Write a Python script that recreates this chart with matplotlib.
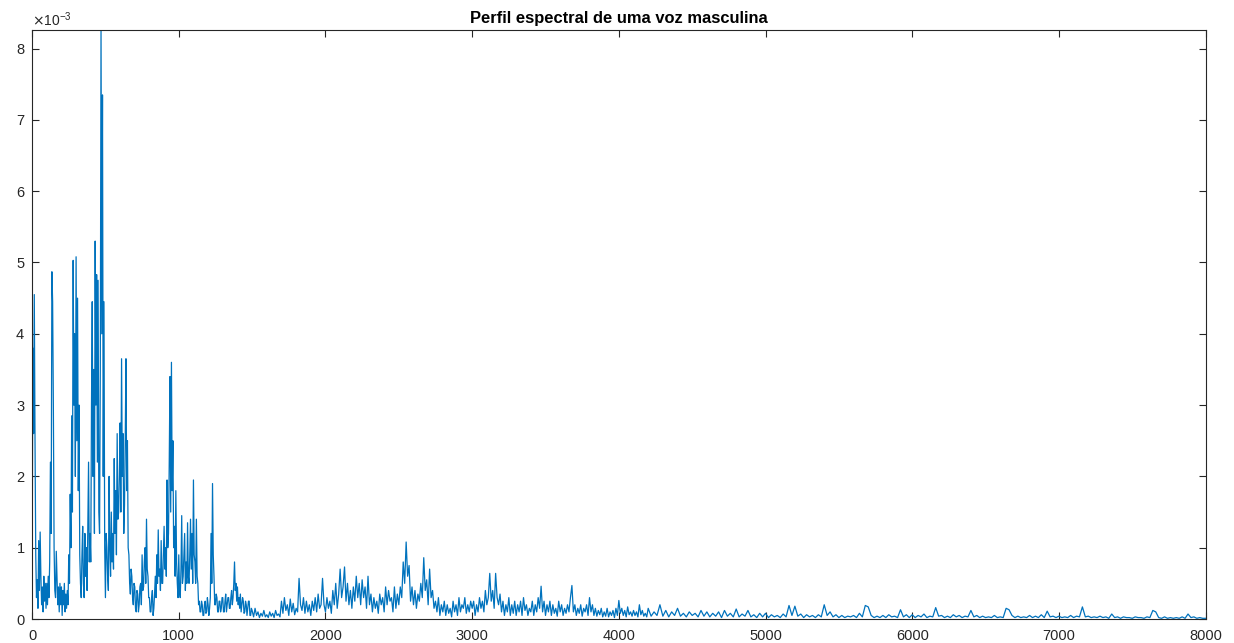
import numpy as np
import matplotlib.pyplot as plt
from matplotlib.ticker import ScalarFormatter

# amplitudes, in units of 1e-3
# band A: 0..1495 Hz, step 5 Hz (one row = 100 Hz)
amp_a = [0.3, 3.8, 2.6, 4.55, 2.5, 0.9, 0.3, 0.55, 0.15, 1.1, 0.4, 1.22, 0.6, 0.2, 0.45, 0.1, 0.6, 0.25, 0.5, 0.15,
         0.5, 0.2, 0.6, 0.3, 0.8, 2.2, 1.2, 4.87, 4.45, 3.0, 1.0, 0.4, 0.3, 0.95, 0.6, 0.2, 0.45, 0.1, 0.5, 0.2,
         0.45, 0.05, 0.4, 0.2, 0.5, 0.1, 0.35, 0.15, 0.4, 0.2, 0.9, 0.5, 1.75, 1.0, 2.85, 1.5, 5.03, 3.0, 4.0, 2.0,
         5.08, 2.5, 4.5, 1.8, 3.0, 0.9, 0.5, 0.3, 0.9, 1.3, 0.5, 0.3, 1.2, 0.6, 1.0, 0.4, 1.3, 2.2, 0.8, 1.2,
         0.8, 3.0, 4.45, 2.0, 3.5, 1.2, 5.3, 3.0, 4.83, 2.2, 4.75, 1.5, 1.2, 3.5, 8.26, 4.0, 7.35, 2.0, 4.45, 1.0,
         0.3, 1.2, 1.0, 0.6, 0.4, 2.0, 1.0, 0.6, 1.5, 0.8, 1.2, 0.7, 2.25, 1.2, 1.8, 0.9, 2.6, 1.4, 1.5, 2.0,
         2.75, 1.5, 3.65, 2.0, 2.6, 1.2, 1.6, 2.5, 3.65, 1.8, 2.5, 1.0, 0.9, 0.5, 0.35, 0.7, 0.6, 0.3, 0.2, 0.5,
         0.45, 0.15, 0.1, 0.4, 0.35, 0.1, 0.2, 0.45, 0.5, 0.2, 0.9, 0.4, 0.45, 0.8, 1.0, 0.5, 1.4, 0.7, 0.6, 0.3,
         0.3, 0.1, 0.1, 0.3, 0.4, 0.05, 0.15, 0.35, 0.6, 0.3, 0.9, 0.5, 1.25, 0.6, 0.7, 0.4, 1.1, 0.5, 0.5, 0.9,
         1.3, 0.7, 1.0, 0.6, 1.95, 1.0, 1.2, 2.2, 3.4, 1.5, 3.6, 1.8, 2.5, 1.0, 1.3, 0.6, 1.8, 0.8, 0.5, 0.3,
         0.9, 0.4, 0.3, 0.7, 1.45, 0.5, 0.6, 0.9, 1.2, 0.4, 0.8, 0.5, 1.35, 0.6, 0.5, 0.9, 1.4, 0.7, 1.2, 0.5,
         1.95, 0.9, 0.8, 0.5, 1.4, 0.6, 0.5, 0.2, 0.25, 0.1, 0.1, 0.25, 0.2, 0.05, 0.05, 0.2, 0.25, 0.08, 0.1, 0.3,
         0.2, 0.05, 0.15, 0.3, 1.2, 0.5, 1.9, 0.9, 0.6, 0.2, 0.2, 0.35, 0.3, 0.1, 0.1, 0.25, 0.25, 0.1, 0.15, 0.3,
         0.3, 0.1, 0.1, 0.25, 0.35, 0.1, 0.2, 0.3, 0.3, 0.15, 0.15, 0.3, 0.4, 0.2, 0.3, 0.5, 0.8, 0.4, 0.5, 0.25,
         0.45, 0.2, 0.3, 0.15, 0.35, 0.1, 0.2, 0.3, 0.25, 0.08, 0.1, 0.25, 0.2, 0.05, 0.15, 0.25, 0.25, 0.05, 0.05, 0.15]

# band B: 1500..4190 Hz, step 10 Hz (one row = 100 Hz)
amp_b = [0.12, 0.03, 0.15, 0.05, 0.1, 0.02, 0.08, 0.04, 0.12, 0.03,
         0.06, 0.02, 0.1, 0.04, 0.08, 0.02, 0.12, 0.05, 0.07, 0.03,
         0.25, 0.08, 0.3, 0.12, 0.2, 0.05, 0.28, 0.1, 0.22, 0.06,
         0.15, 0.1, 0.57, 0.2, 0.12, 0.3, 0.08, 0.25, 0.1, 0.2,
         0.05, 0.25, 0.12, 0.3, 0.1, 0.35, 0.15, 0.2, 0.57, 0.2,
         0.1, 0.3, 0.15, 0.25, 0.08, 0.4, 0.2, 0.5, 0.15, 0.35,
         0.7, 0.3, 0.45, 0.73, 0.25, 0.5, 0.2, 0.4, 0.15, 0.45,
         0.25, 0.6, 0.3, 0.5, 0.2, 0.55, 0.3, 0.45, 0.15, 0.6,
         0.2, 0.35, 0.1, 0.3, 0.15, 0.25, 0.08, 0.35, 0.2, 0.3,
         0.1, 0.45, 0.2, 0.4, 0.25, 0.3, 0.1, 0.45, 0.15, 0.35,
         0.2, 0.45, 0.3, 0.8, 0.5, 1.08, 0.6, 0.75, 0.25, 0.45,
         0.2, 0.4, 0.15, 0.35, 0.25, 0.5, 0.3, 0.86, 0.4, 0.55,
         0.2, 0.7, 0.3, 0.4, 0.15, 0.25, 0.1, 0.3, 0.05, 0.2,
         0.1, 0.25, 0.05, 0.2, 0.08, 0.15, 0.03, 0.25, 0.1, 0.2,
         0.05, 0.3, 0.1, 0.2, 0.15, 0.3, 0.08, 0.2, 0.1, 0.25,
         0.15, 0.25, 0.05, 0.2, 0.1, 0.3, 0.15, 0.25, 0.1, 0.4,
         0.2, 0.3, 0.64, 0.25, 0.4, 0.15, 0.64, 0.3, 0.2, 0.35,
         0.1, 0.25, 0.05, 0.2, 0.1, 0.3, 0.05, 0.2, 0.08, 0.25,
         0.05, 0.2, 0.1, 0.25, 0.05, 0.3, 0.12, 0.2, 0.05, 0.15,
         0.1, 0.25, 0.05, 0.2, 0.1, 0.3, 0.15, 0.46, 0.1, 0.25,
         0.05, 0.2, 0.1, 0.25, 0.05, 0.2, 0.08, 0.15, 0.04, 0.25,
         0.1, 0.2, 0.05, 0.15, 0.08, 0.2, 0.1, 0.3, 0.47, 0.1,
         0.2, 0.05, 0.15, 0.08, 0.2, 0.04, 0.15, 0.1, 0.2, 0.05,
         0.3, 0.1, 0.2, 0.05, 0.15, 0.04, 0.12, 0.06, 0.15, 0.03,
         0.1, 0.04, 0.15, 0.03, 0.1, 0.05, 0.12, 0.02, 0.15, 0.05,
         0.26, 0.08, 0.15, 0.05, 0.12, 0.03, 0.17, 0.06, 0.1, 0.04,
         0.12, 0.05, 0.1, 0.03, 0.2, 0.06, 0.12, 0.04, 0.08, 0.03]

# band C: 4200..8000 Hz, step 20 Hz (one row = 200 Hz)
amp_c = [0.15, 0.04, 0.1, 0.05, 0.2, 0.04, 0.12, 0.03, 0.1, 0.05,
         0.15, 0.04, 0.08, 0.03, 0.1, 0.05, 0.08, 0.03, 0.12, 0.04,
         0.1, 0.03, 0.08, 0.04, 0.1, 0.02, 0.12, 0.04, 0.08, 0.03,
         0.14, 0.03, 0.07, 0.04, 0.12, 0.03, 0.06, 0.02, 0.08, 0.03,
         0.08, 0.02, 0.06, 0.03, 0.05, 0.02, 0.07, 0.03, 0.19, 0.05,
         0.18, 0.04, 0.07, 0.02, 0.06, 0.03, 0.05, 0.02, 0.06, 0.03,
         0.2, 0.05, 0.1, 0.03, 0.06, 0.02, 0.05, 0.02, 0.04, 0.03,
         0.05, 0.02, 0.08, 0.03, 0.19, 0.17, 0.05, 0.02, 0.04, 0.02,
         0.05, 0.02, 0.06, 0.03, 0.04, 0.02, 0.13, 0.03, 0.06, 0.02,
         0.06, 0.02, 0.05, 0.03, 0.07, 0.02, 0.04, 0.03, 0.16, 0.04,
         0.05, 0.02, 0.04, 0.02, 0.06, 0.03, 0.05, 0.02, 0.04, 0.03,
         0.12, 0.03, 0.05, 0.02, 0.04, 0.02, 0.03, 0.02, 0.05, 0.02,
         0.03, 0.02, 0.15, 0.13, 0.05, 0.02, 0.04, 0.02, 0.03, 0.02,
         0.05, 0.02, 0.04, 0.02, 0.06, 0.02, 0.11, 0.03, 0.04, 0.02,
         0.04, 0.02, 0.03, 0.02, 0.05, 0.02, 0.04, 0.03, 0.17, 0.03,
         0.04, 0.02, 0.03, 0.02, 0.04, 0.02, 0.03, 0.01, 0.07, 0.02,
         0.03, 0.01, 0.03, 0.02, 0.02, 0.01, 0.03, 0.02, 0.02, 0.01,
         0.03, 0.02, 0.12, 0.1, 0.02, 0.01, 0.03, 0.01, 0.02, 0.01,
         0.02, 0.01, 0.03, 0.01, 0.07, 0.02, 0.03, 0.01, 0.02, 0.01,
         0.01]

f = np.concatenate([0 + 5 * np.arange(len(amp_a)),
                    1500 + 10 * np.arange(len(amp_b)),
                    4200 + 20 * np.arange(len(amp_c))])
a = np.concatenate([amp_a, amp_b, amp_c]) * 1e-3

plt.rcParams['font.family'] = ['Liberation Sans', 'DejaVu Sans']

fig = plt.figure(figsize=(12.34, 6.43), dpi=100)
ax = fig.add_axes([0.026, 0.0373, 0.951, 0.916])
ax.plot(f, a, color='#0072BD', linewidth=0.9)

ax.set_xlim(0, 8000)
ax.set_ylim(0, 8.26e-3)
ax.set_xticks(np.arange(0, 8001, 1000))
ax.set_yticks(np.arange(0, 8.1e-3, 1e-3))
fmt = ScalarFormatter(useMathText=True)
fmt.set_powerlimits((-2, 2))
ax.yaxis.set_major_formatter(fmt)
ax.yaxis.get_offset_text().set_fontsize(10)
ax.yaxis.get_offset_text().set_color('#262626')

ax.tick_params(direction='in', top=True, right=True, length=5, width=0.8,
               labelsize=10.5, colors='#262626')
ax.tick_params(axis='x', pad=7)
ax.tick_params(axis='y', pad=5)
for s in ax.spines.values():
    s.set_color('#262626')
    s.set_linewidth(0.8)

ax.set_title('Perfil espectral de uma voz masculina', fontsize=11.9,
             fontweight='bold', color='black', pad=5)

fig.savefig('out.png', dpi=100)
